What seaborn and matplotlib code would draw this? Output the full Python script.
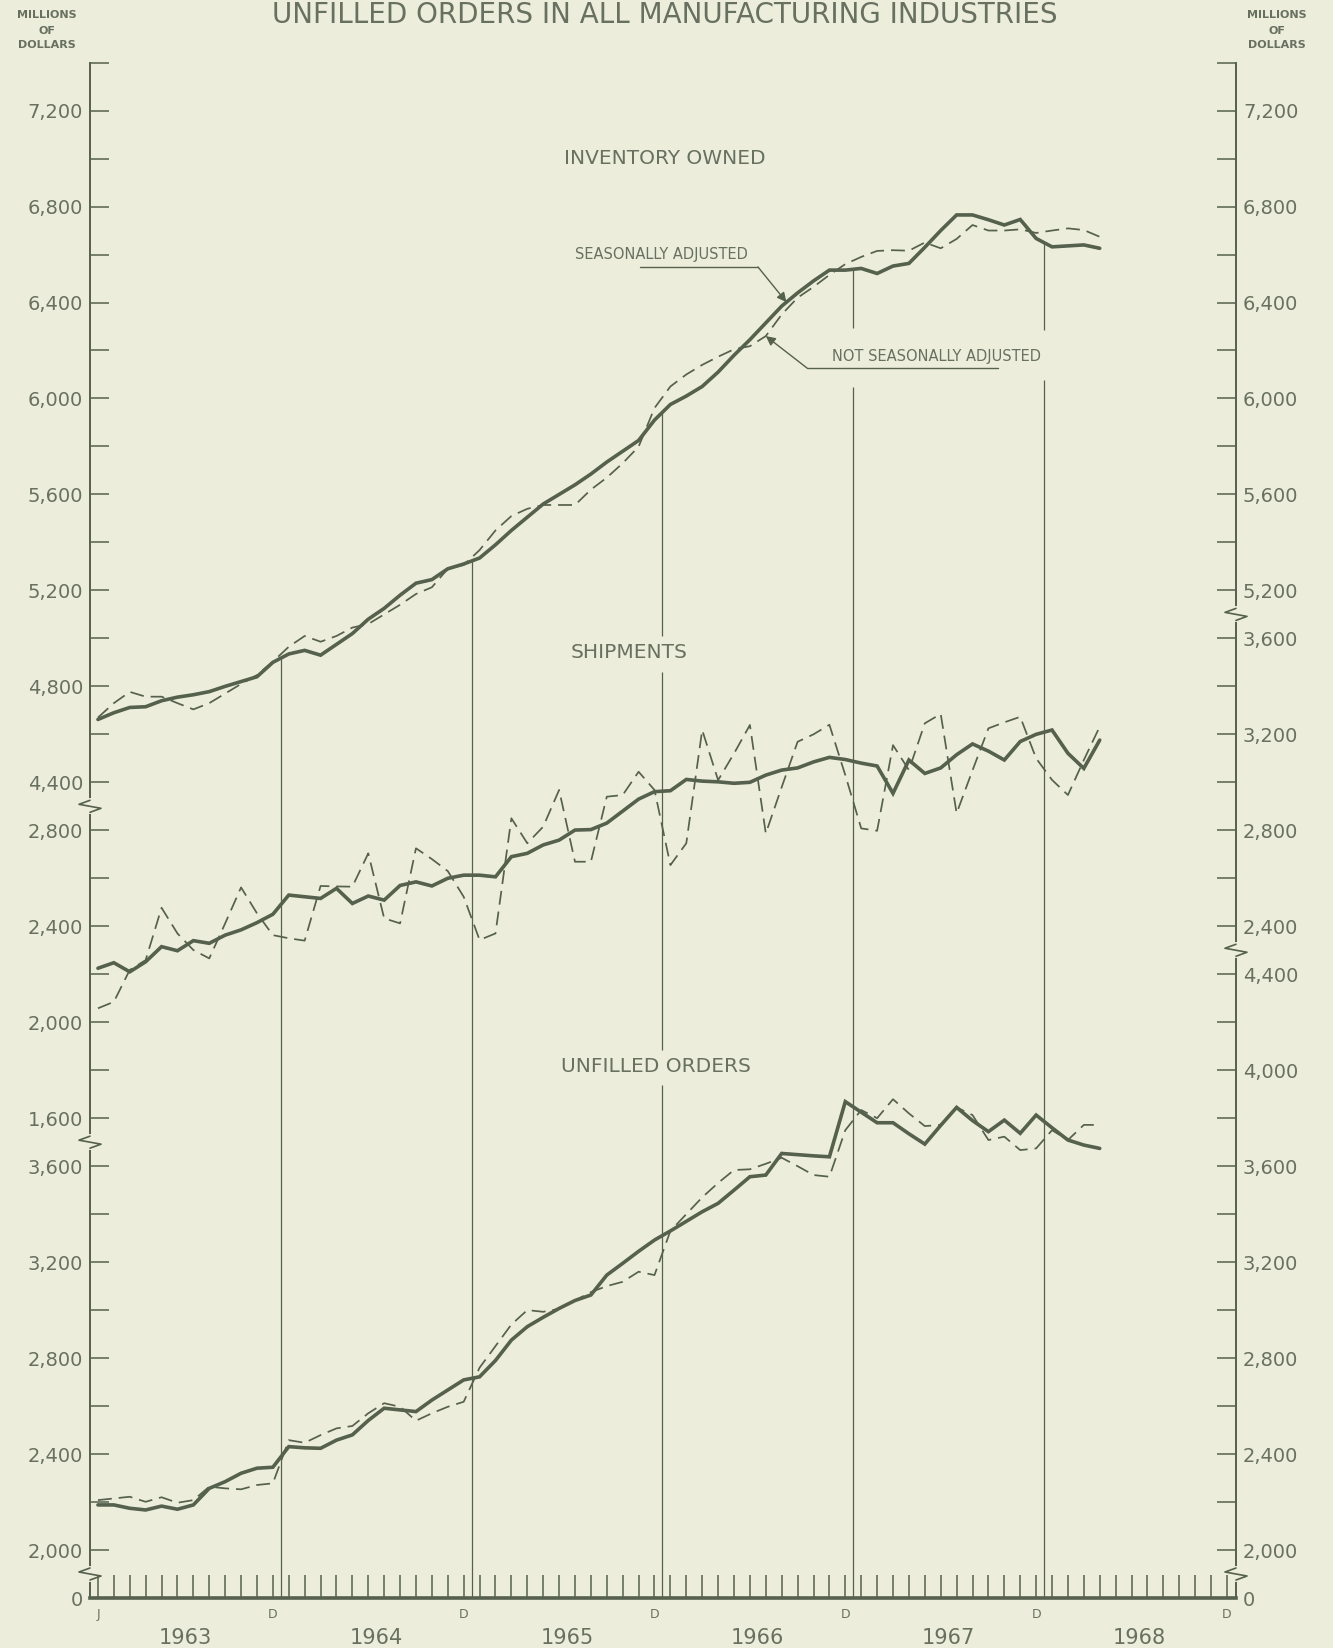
import numpy as np
import pandas as pd
import matplotlib
matplotlib.use("Agg")
import matplotlib.pyplot as plt
import seaborn as sns
from matplotlib.lines import Line2D

# monthly values, Jan 1963 .. Apr 1968 (millions of dollars)
inventory_sa = [4662, 4690, 4712, 4715, 4740, 4755, 4765, 4778, 4800, 4820,
                4840, 4900, 4935, 4950, 4930, 4975, 5020, 5080, 5125, 5180,
                5230, 5245, 5290, 5310, 5335, 5390, 5450, 5505, 5560, 5600,
                5640, 5685, 5735, 5780, 5825, 5910, 5975, 6010, 6050, 6110,
                6180, 6245, 6315, 6385, 6440, 6490, 6535, 6535, 6542, 6521,
                6552, 6563, 6630, 6700, 6765, 6765, 6745, 6723, 6746, 6667,
                6632, 6636, 6640, 6626]
inventory_nsa = [4670, 4730, 4777, 4757, 4757, 4730, 4704, 4730, 4770, 4810,
                 4847, 4903, 4965, 5010, 4986, 5010, 5045, 5060, 5100, 5140,
                 5185, 5213, 5290, 5306, 5368, 5450, 5510, 5540, 5556, 5556,
                 5556, 5620, 5670, 5730, 5799, 5960, 6050, 6100, 6140, 6174,
                 6205, 6218, 6260, 6350, 6420, 6465, 6515, 6560, 6590, 6615,
                 6618, 6616, 6650, 6626, 6665, 6723, 6700, 6700, 6705, 6690,
                 6700, 6709, 6702, 6674]
shipments_sa = [2225, 2248, 2210, 2252, 2315, 2298, 2340, 2329, 2363, 2385,
                2415, 2450, 2530, 2523, 2516, 2558, 2495, 2526, 2509, 2570,
                2585, 2568, 2600, 2613, 2613, 2606, 2690, 2704, 2739, 2759,
                2801, 2803, 2830, 2880, 2930, 2961, 2965, 3012, 3005, 3002,
                2996, 3000, 3030, 3051, 3060, 3085, 3104, 3095, 3080, 3068,
                2954, 3093, 3037, 3060, 3115, 3160, 3130, 3093, 3170, 3200,
                3218, 3121, 3058, 3176]
shipments_nsa = [2058, 2085, 2218, 2259, 2477, 2370, 2301, 2266, 2412, 2562,
                 2454, 2363, 2350, 2340, 2568, 2566, 2565, 2704, 2433, 2412,
                 2725, 2680, 2630, 2523, 2343, 2370, 2850, 2746, 2815, 2968,
                 2669, 2669, 2940, 2947, 3044, 2968, 2655, 2746, 3218, 3009,
                 3120, 3239, 2787, 2980, 3169, 3200, 3240, 3030, 2808, 2798,
                 3155, 3051, 3246, 3285, 2871, 3050, 3225, 3250, 3273, 3100,
                 3010, 2947, 3093, 3232]
unfilled_sa = [2188, 2188, 2174, 2167, 2183, 2170, 2188, 2257, 2285, 2320,
               2341, 2345, 2431, 2426, 2424, 2458, 2480, 2540, 2591, 2584,
               2577, 2625, 2667, 2709, 2722, 2790, 2875, 2931, 2970, 3007,
               3040, 3063, 3146, 3195, 3245, 3292, 3330, 3370, 3410, 3445,
               3500, 3556, 3563, 3653, 3648, 3643, 3639, 3869, 3825, 3781,
               3781, 3735, 3692, 3770, 3845, 3790, 3744, 3792, 3737, 3813,
               3760, 3709, 3688, 3674]
unfilled_nsa = [2208, 2215, 2222, 2201, 2220, 2197, 2208, 2264, 2257, 2253,
                2271, 2278, 2458, 2447, 2479, 2507, 2517, 2570, 2612, 2597,
                2539, 2570, 2597, 2618, 2760, 2850, 2940, 3000, 2993, 3005,
                3040, 3075, 3100, 3118, 3160, 3146, 3330, 3400, 3470, 3530,
                3584, 3587, 3610, 3635, 3600, 3563, 3556, 3750, 3834, 3800,
                3879, 3820, 3767, 3772, 3845, 3813, 3709, 3723, 3667, 3674,
                3750, 3709, 3772, 3772]

years = ["1963", "1964", "1965", "1966", "1967", "1968"]
# bottom scale: a tick per month, lettered only at the first J and each D
month_labels = ["J" if m == 0 else ("D" if m % 12 == 11 else "") for m in range(72)]

# each panel has its own value scale (broken axis); ticks every 200
inv_lim = (1000, 7400)
ship_lim = (-400, 6000)
unf_lim = (1800, 8200)
inv_left = list(range(4400, 7401, 200))
inv_right = list(range(5200, 7401, 200))
ship_left = list(range(1600, 2801, 200))
ship_right = list(range(2400, 3601, 200))
unf_left = [1800] + list(range(2000, 3601, 200))
unf_right = [1800] + list(range(2000, 4401, 200))

BG = "#eceedb"
INK = "#55604d"
TXT = "#687060"

sns.set_style("ticks")
plt.rcParams["font.family"] = ["DejaVu Sans"]

W, H = 1333, 1648
fig = plt.figure(figsize=(W / 100, H / 100), dpi=100, facecolor=BG)

x0, x1, ytop, ybot = 90, 1236, 62.6, 1598
rect = [x0 / W, 1 - ybot / H, (x1 - x0) / W, (ybot - ytop) / H]

ax = fig.add_axes(rect, facecolor=BG)
months = np.arange(len(inventory_sa))
ax.set_xlim(-0.5, 71.57)


def fmt(v, panel_lo):
    if v == panel_lo:
        return "0"
    if v % 400:
        return ""
    return f"{v:,}"


def setup_y(a, lim, ticks, side, zero_at=None):
    a.set_ylim(*lim)
    a.set_yticks(ticks)
    a.set_yticklabels([fmt(t, zero_at) for t in ticks])
    a.yaxis.set_ticks_position(side)
    a.yaxis.set_label_position(side)
    a.tick_params(axis="y", direction="in", length=13.5, width=1.1,
                  color=INK, labelcolor=TXT, labelsize=14, pad=5,
                  left=(side == "left"), right=(side == "right"),
                  labelleft=(side == "left"), labelright=(side == "right"))
    for s in a.spines.values():
        s.set_visible(False)


def overlay():
    a = fig.add_axes(rect, sharex=ax, facecolor="none")
    a.xaxis.set_visible(False)
    return a


ax_inv_r = overlay()
ax_ship = overlay()
ax_ship_r = overlay()
ax_unf = overlay()
ax_unf_r = overlay()

setup_y(ax, inv_lim, inv_left, "left")
setup_y(ax_inv_r, inv_lim, inv_right, "right")
setup_y(ax_ship, ship_lim, ship_left, "left")
setup_y(ax_ship_r, ship_lim, ship_right, "right")
setup_y(ax_unf, unf_lim, unf_left, "left", zero_at=1800)
setup_y(ax_unf_r, unf_lim, unf_right, "right", zero_at=1800)

# frame: left, right, bottom
for side in ["left", "right", "bottom"]:
    ax.spines[side].set_visible(True)
    ax.spines[side].set_color(INK)
ax.spines["left"].set_linewidth(1.4)
ax.spines["right"].set_linewidth(1.4)
ax.spines["bottom"].set_linewidth(2.6)
ax.spines["top"].set_visible(False)

# month ticks along the bottom
ax.set_xticks(np.arange(72))
ax.set_xticklabels(month_labels)
ax.tick_params(axis="x", direction="in", length=16.5, width=1.1, color=INK,
               labelcolor=TXT, labelsize=9, pad=7)
for i, yr in enumerate(years):
    ax.text(5.5 + 12 * i, -0.026, yr, transform=ax.get_xaxis_transform(),
            ha="center", va="center", fontsize=15, color=TXT)

# December separators, from the baseline up to the inventory curve,
# broken where a label sits across them (inventory-scale values)
seps = [11.5, 23.5, 35.5, 47.5, 59.5]
gaps = {35.5: [(3138, 3284), (4860, 5010)],
        47.5: [(6047, 6293)],
        59.5: [(6076, 6285)]}
for s in seps:
    top = np.interp(s, months, inventory_sa)
    lo = inv_lim[0]
    for g0, g1 in gaps.get(s, []):
        ax.vlines(s, lo, g0, color=INK, lw=0.9)
        lo = g1
    ax.vlines(s, lo, top, color=INK, lw=0.9)

df = pd.DataFrame({
    "month": months,
    "inv_sa": inventory_sa, "inv_nsa": inventory_nsa,
    "ship_sa": shipments_sa, "ship_nsa": shipments_nsa,
    "unf_sa": unfilled_sa, "unf_nsa": unfilled_nsa,
})
dash = (0, (8, 4))
for a, key in [(ax, "inv"), (ax_ship, "ship"), (ax_unf, "unf")]:
    sns.lineplot(data=df, x="month", y=f"{key}_nsa", ax=a, color=INK,
                 lw=1.25, linestyle=dash, estimator=None)
    sns.lineplot(data=df, x="month", y=f"{key}_sa", ax=a, color=INK,
                 lw=2.6, estimator=None, solid_joinstyle="miter")
    a.set_xlabel("")
    a.set_ylabel("")


# axis breaks (zigzags on the spines)
def brk(a, side, v):
    fig.canvas.draw()
    xa = 0 if side == "left" else 1
    py = a.transData.transform((0, v))[1]
    px = a.transAxes.transform((xa, 0))[0]
    gap = [(px, py - 6), (px, py + 6)]
    zz = [(px, py + 6), (px - 11, py + 2), (px + 11, py - 2), (px, py - 6)]
    inv = fig.transFigure.inverted()
    g = inv.transform(gap)
    z = inv.transform(zz)
    fig.add_artist(Line2D(g[:, 0], g[:, 1], color=BG, lw=3,
                          transform=fig.transFigure))
    fig.add_artist(Line2D(z[:, 0], z[:, 1], color=INK, lw=1.2,
                          transform=fig.transFigure))


brk(ax_unf, "left", 1900)
brk(ax_unf, "right", 1900)
brk(ax_unf, "left", 3700)
brk(ax, "left", 4300)
brk(ax_unf, "right", 4500)
brk(ax, "right", 5100)


# labels
def ftxt(x, y, s, va="center", **kw):
    fig.text(x / W, 1 - y / H, s, color=TXT, ha="center", va=va, **kw)


ftxt(665, 1, "UNFILLED ORDERS IN ALL MANUFACTURING INDUSTRIES",
     va="top", fontsize=20)
for cx in (47, 1277):
    ftxt(cx, 15, "MILLIONS", fontsize=8, fontweight="bold")
    ftxt(cx, 31, "OF", fontsize=8, fontweight="bold")
    ftxt(cx, 45, "DOLLARS", fontsize=8, fontweight="bold")
ftxt(665, 158, "INVENTORY OWNED", fontsize=14.5)
ftxt(629, 653, "SHIPMENTS", fontsize=14.5)
ftxt(656, 1067, "UNFILLED ORDERS", fontsize=14.5)
ftxt(661, 255, "SEASONALLY ADJUSTED", fontsize=10.5)
ftxt(936, 356, "NOT SEASONALLY ADJUSTED", fontsize=10.5)


# leader lines: a rule under the label, then a slanted arrow to the curve
def leader(xa, xb, yr, corner, tip):
    fig.add_artist(Line2D([xa / W, xb / W], [1 - yr / H, 1 - yr / H],
                          color=INK, lw=1.0, transform=fig.transFigure))
    ax.annotate("", xy=tip, xytext=(corner / W, 1 - yr / H),
                textcoords="figure fraction",
                arrowprops=dict(arrowstyle="-|>", color=INK, lw=1.0,
                                shrinkA=0, shrinkB=0, mutation_scale=14))


leader(640, 758, 267, 758, (43.3, np.interp(43.3, months, inventory_sa)))
leader(807, 998, 368, 807, (42.0, np.interp(42.0, months, inventory_nsa)))

fig.savefig("out.png", dpi=100, facecolor=BG)
